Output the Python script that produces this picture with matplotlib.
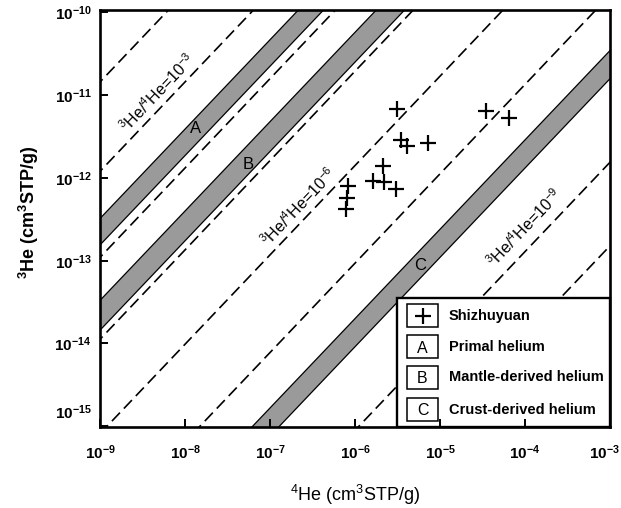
import numpy as np
import matplotlib
matplotlib.use('Agg')
import matplotlib.pyplot as plt
from matplotlib.patches import Rectangle
from matplotlib.transforms import offset_copy

plt.rcParams['font.family'] = ['Liberation Sans', 'DejaVu Sans']
plt.rcParams['mathtext.fontset'] = 'custom'
plt.rcParams['mathtext.rm'] = 'Liberation Sans'
plt.rcParams['mathtext.bf'] = 'Liberation Sans:bold'
plt.rcParams['mathtext.it'] = 'Liberation Sans:italic'

# ---------------- data ----------------
he4 = [3.1e-6, 3.5e-6, 4.1e-6, 7.2e-6, 2.12e-6, 1.64e-6, 2.2e-6, 3.03e-6,
       8.3e-7, 8.1e-7, 7.8e-7, 3.45e-5, 6.4e-5]
he3 = [6.9e-12, 2.9e-12, 2.45e-12, 2.66e-12, 1.40e-12, 9.2e-13, 9.0e-13, 7.3e-13,
       7.9e-13, 5.8e-13, 4.2e-13, 6.4e-12, 5.3e-12]

# dashed 3He/4He ratio lines, ratio read at 4He = 1e-6 (as drawn in the figure)
ratio_lines = [10**-1.60, 10**-2.68, 10**-3.72, 10**-4.71, 10**-5.85,
               10**-7.03, 10**-9.05, 10**-10.06]
# shaded source bands (low / high ratio at 4He = 1e-6)
band_names = ['A', 'B', 'C']
band_lo = [10**-3.57, 10**-4.60, 10**-8.04]
band_hi = [10**-3.25, 10**-4.24, 10**-7.70]
# log-log steepness of the drawn ratio lines
line_slope = 1.08
x_pivot = 1e-6

ratio_label_exps = ['-3', '-6', '-9']

legend_symbols = ['+', 'A', 'B', 'C']
legend_labels = ['Shizhuyuan', 'Primal helium', 'Mantle-derived helium', 'Crust-derived helium']

xticks = [1e-9, 1e-8, 1e-7, 1e-6, 1e-5, 1e-4, 1e-3]
xtick_labels = [r'$\mathbf{10^{-9}}$', r'$\mathbf{10^{-8}}$', r'$\mathbf{10^{-7}}$',
                r'$\mathbf{10^{-6}}$', r'$\mathbf{10^{-5}}$', r'$\mathbf{10^{-4}}$',
                r'$\mathbf{10^{-3}}$']
yticks = [1e-15, 1e-14, 1e-13, 1e-12, 1e-11, 1e-10]
ytick_labels = [r'$\mathbf{10^{-15}}$', r'$\mathbf{10^{-14}}$', r'$\mathbf{10^{-13}}$',
                r'$\mathbf{10^{-12}}$', r'$\mathbf{10^{-11}}$', r'$\mathbf{10^{-10}}$']


def ratio_curve(r, x):
    return r * x_pivot * (x / x_pivot) ** line_slope


# ---------------- figure ----------------
fig = plt.figure(figsize=(6.21, 5.08), dpi=100)
ax = fig.add_axes([0.161, 0.1594, 0.8213, 0.8209])
ax.set_xscale('log')
ax.set_yscale('log')
ax.set_xlim(1e-9, 1e-3)
ax.set_ylim(10**-15.01, 10**-9.97)

xx = np.array([1e-11, 1e-1])

for r in ratio_lines:
    ax.plot(xx, ratio_curve(r, xx), color='black', lw=1.2, dashes=(7, 3.4), zorder=1)

for lo, hi in zip(band_lo, band_hi):
    ax.fill_between(xx, ratio_curve(lo, xx), ratio_curve(hi, xx),
                    facecolor='#9a9a9a', edgecolor='none', zorder=2)
    ax.plot(xx, ratio_curve(lo, xx), color='black', lw=0.9, zorder=2.1)
    ax.plot(xx, ratio_curve(hi, xx), color='black', lw=0.9, zorder=2.1)

# band letters
band_label_pos = [(10**-7.871, 10**-11.398), (10**-7.259, 10**-11.843), (10**-5.235, 10**-13.06)]
for name, (bx, by) in zip(band_names, band_label_pos):
    ax.text(bx, by, name, fontsize=12, ha='center', va='center', zorder=3)

# rotation angle of ratio lines on screen
p1 = ax.transData.transform((1e-8, ratio_curve(1e-4, 1e-8)))
p2 = ax.transData.transform((1e-6, ratio_curve(1e-4, 1e-6)))
angle = np.degrees(np.arctan2(p2[1] - p1[1], p2[0] - p1[0]))

ratio_label_pos = [(10**-8.318, 10**-10.976), (10**-6.659, 10**-12.349), (10**-4.0, 10**-12.602)]
for e, (lx, ly) in zip(ratio_label_exps, ratio_label_pos):
    ax.text(lx, ly, r'$^{3}$He/$^{4}$He=10$^{' + e + '}$', fontsize=11.5,
            rotation=angle, rotation_mode='anchor', ha='center', va='center', zorder=3)

# data points
ax.plot(he4, he3, linestyle='none', marker='+', color='black', ms=12, mew=1.6, zorder=4)

# axes styling
ax.minorticks_off()
ax.set_xticks(xticks)
ax.set_xticklabels(xtick_labels[:-1] + [''])
ax.set_yticks(yticks)
ax.set_yticklabels([''] + ytick_labels[1:])
ax.tick_params(axis='both', which='major', direction='in', length=6, width=1.4,
               top=False, right=False, labelsize=11)
ax.tick_params(axis='x', pad=12)
ax.tick_params(axis='y', pad=6)
ax.minorticks_off()
# lowest y label sits a little above the corner in the original
tr = offset_copy(ax.get_yaxis_transform(), fig=fig, x=-6, y=10, units='points')
ax.text(0, yticks[0], ytick_labels[0], transform=tr, ha='right', va='center', fontsize=11)
# last x label nudged inward so it stays inside the image
trx = offset_copy(ax.get_xaxis_transform(), fig=fig, x=-4, y=-12, units='points')
ax.text(xticks[-1], 0, xtick_labels[-1], transform=trx, ha='center', va='top', fontsize=11)

for s in ax.spines.values():
    s.set_linewidth(1.9)
    s.set_zorder(7)
ax.xaxis.set_zorder(7)
ax.yaxis.set_zorder(7)

ax.set_xlabel(r'$^{4}$He (cm$^{3}$STP/g)', fontsize=13)
ax.set_ylabel(r'$^{\mathbf{3}}$He (cm$^{\mathbf{3}}$STP/g)', fontsize=13, fontweight='bold')
ax.xaxis.label.set_va('center')
ax.yaxis.label.set_va('center')
ax.xaxis.set_label_coords(0.5, -0.163)
ax.yaxis.set_label_coords(-0.14, 0.516)

# legend (manual box)
ax.add_patch(Rectangle((0.582, 0.0), 0.418, 0.309, transform=ax.transAxes,
                       facecolor='white', edgecolor='black', lw=1.7, zorder=5, clip_on=False))
row_y = [0.267, 0.192, 0.119, 0.042]
bw, bh = 0.0608, 0.055
bx0 = 0.602
for sym, lab, yc in zip(legend_symbols, legend_labels, row_y):
    ax.add_patch(Rectangle((bx0, yc - bh / 2), bw, bh, transform=ax.transAxes,
                           facecolor='white', edgecolor='black', lw=1.1, zorder=6))
    if sym == '+':
        ax.plot([bx0 + bw / 2], [yc], transform=ax.transAxes, marker='+', color='black',
                ms=12, mew=1.6, linestyle='none', zorder=6.5, clip_on=False)
    else:
        ax.text(bx0 + bw / 2, yc - 0.003, sym, transform=ax.transAxes, fontsize=11.5,
                ha='center', va='center', zorder=6.5)
    ax.text(0.684, yc, lab, transform=ax.transAxes, fontsize=10.5, fontweight='bold',
            ha='left', va='center', zorder=6.5)

fig.savefig('out.png', dpi=100)
